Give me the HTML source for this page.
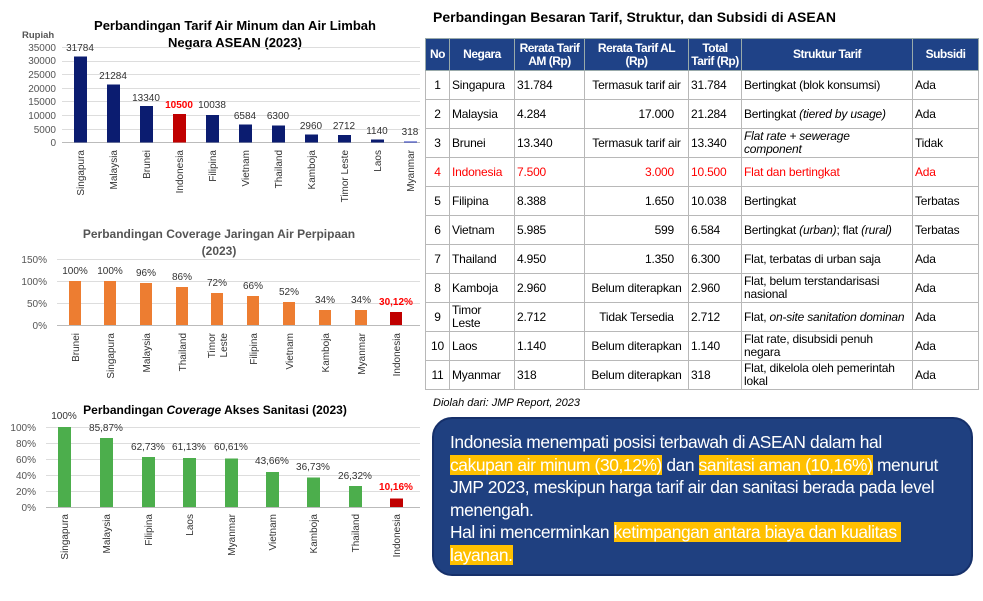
<!DOCTYPE html>
<html><head><meta charset="utf-8"><style>
body{margin:0;width:983px;height:601px;background:#fff;font-family:"Liberation Sans",sans-serif;position:relative;overflow:hidden}
svg text{font-family:"Liberation Sans",sans-serif}
#t{position:absolute;left:425px;top:38px;border-collapse:collapse;font-size:12px;color:#000;table-layout:fixed;letter-spacing:-0.2px}
#t td,#t th{border:1.5px solid #b8b8b8;padding:0 2px;line-height:13px;height:28px;overflow:hidden;white-space:nowrap}
#t td.w{white-space:normal}
#t th{background:#1f4287;color:#fff;font-weight:bold;height:31px;text-align:center;border-color:#9aa;white-space:normal;line-height:13px;padding:0 1px;letter-spacing:-0.5px}
#t tr.r td{color:#f00}
.c{text-align:center}.rt{text-align:right;padding-right:14px!important}
.box{position:absolute;left:432px;top:417px;width:541px;height:159px;background:#1f4080;border:2px solid #16306a;border-radius:20px;box-sizing:border-box;color:#fff;font-size:17.4px;line-height:22.5px;padding:12px 10px 0 16px;letter-spacing:-0.4px;white-space:nowrap}
.h{background:#ffc000}
</style></head><body>
<svg width="425" height="601" style="position:absolute;left:0;top:0">
<text x="235" y="30" font-size="13" font-weight="bold" text-anchor="middle">Perbandingan Tarif Air Minum dan Air Limbah</text>
<text x="235" y="47" font-size="13" font-weight="bold" text-anchor="middle">Negara ASEAN (2023)</text>
<text x="22" y="38" font-size="9.5" font-weight="bold" fill="#555">Rupiah</text>
<g font-size="10" fill="#555" text-anchor="end">
<text x="56" y="51">35000</text><text x="56" y="64">30000</text><text x="56" y="78">25000</text><text x="56" y="92">20000</text><text x="56" y="105">15000</text><text x="56" y="119">10000</text><text x="56" y="133">5000</text><text x="56" y="146">0</text></g>
<g stroke="#ddd"><line x1="62" x2="420" y1="47.5" y2="47.5"/><line x1="62" x2="420" y1="61.5" y2="61.5"/><line x1="62" x2="420" y1="74.5" y2="74.5"/><line x1="62" x2="420" y1="88.5" y2="88.5"/><line x1="62" x2="420" y1="101.5" y2="101.5"/><line x1="62" x2="420" y1="115.5" y2="115.5"/><line x1="62" x2="420" y1="129.5" y2="129.5"/></g>
<line x1="62" x2="420" y1="142.5" y2="142.5" stroke="#bbb"/>
<g fill="#0b1c70">
<rect x="74" y="56.5" width="13" height="86"/><rect x="107" y="84.5" width="13" height="58"/><rect x="140" y="106" width="13" height="36.5"/><rect x="173" y="114" width="13" height="28.5" fill="#c00000"/><rect x="206" y="115" width="13" height="27.5"/><rect x="239" y="124.5" width="13" height="18"/><rect x="272" y="125.5" width="13" height="17"/><rect x="305" y="134.5" width="13" height="8"/><rect x="338" y="135" width="13" height="7.5"/><rect x="371" y="139.5" width="13" height="3"/><rect x="404" y="141.5" width="13" height="1" fill="#2233bb"/></g>
<g font-size="10" fill="#333" text-anchor="middle">
<text x="80" y="51">31784</text><text x="113" y="79">21284</text><text x="146" y="101">13340</text><text x="179" y="108" fill="#f00" font-weight="bold">10500</text><text x="212" y="108">10038</text><text x="245" y="119">6584</text><text x="278" y="119">6300</text><text x="311" y="129">2960</text><text x="344" y="129">2712</text><text x="377" y="134">1140</text><text x="410" y="135">318</text></g>
<g font-size="10" fill="#333" text-anchor="end">
<text transform="translate(84,150) rotate(-90)">Singapura</text><text transform="translate(117,150) rotate(-90)">Malaysia</text><text transform="translate(150,150) rotate(-90)">Brunei</text><text transform="translate(183,150) rotate(-90)">Indonesia</text><text transform="translate(216,150) rotate(-90)">Filipina</text><text transform="translate(249,150) rotate(-90)">Vietnam</text><text transform="translate(282,150) rotate(-90)">Thailand</text><text transform="translate(315,150) rotate(-90)">Kamboja</text><text transform="translate(348,150) rotate(-90)">Timor Leste</text><text transform="translate(381,150) rotate(-90)">Laos</text><text transform="translate(414,150) rotate(-90)">Myanmar</text></g>
<text x="219" y="238" font-size="12" font-weight="bold" text-anchor="middle" fill="#555">Perbandingan Coverage Jaringan Air Perpipaan</text>
<text x="219" y="255" font-size="12" font-weight="bold" text-anchor="middle" fill="#555">(2023)</text>
<g font-size="10" fill="#555" text-anchor="end"><text x="47" y="263">150%</text><text x="47" y="285">100%</text><text x="47" y="307">50%</text><text x="47" y="329">0%</text></g>
<g stroke="#ddd"><line x1="57" x2="420" y1="259.5" y2="259.5"/><line x1="57" x2="420" y1="281.5" y2="281.5"/><line x1="57" x2="420" y1="303.5" y2="303.5"/></g>
<line x1="57" x2="420" y1="325.5" y2="325.5" stroke="#bbb"/>
<g fill="#ed7d31">
<rect x="69" y="281" width="12" height="44"/><rect x="104" y="281" width="12" height="44"/><rect x="140" y="283" width="12" height="42"/><rect x="176" y="287" width="12" height="38"/><rect x="211" y="293" width="12" height="32"/><rect x="247" y="296" width="12" height="29"/><rect x="283" y="302" width="12" height="23"/><rect x="319" y="310" width="12" height="15"/><rect x="355" y="310" width="12" height="15"/><rect x="390" y="312" width="12" height="13" fill="#c00000"/></g>
<g font-size="10" fill="#333" text-anchor="middle">
<text x="75" y="274">100%</text><text x="110" y="274">100%</text><text x="146" y="276">96%</text><text x="182" y="280">86%</text><text x="217" y="286">72%</text><text x="253" y="289">66%</text><text x="289" y="295">52%</text><text x="325" y="303">34%</text><text x="361" y="303">34%</text><text x="396" y="305" fill="#f00" font-weight="bold">30,12%</text></g>
<g font-size="10" fill="#333" text-anchor="end">
<text transform="translate(79,333) rotate(-90)">Brunei</text><text transform="translate(114,333) rotate(-90)">Singapura</text><text transform="translate(150,333) rotate(-90)">Malaysia</text><text transform="translate(186,333) rotate(-90)">Thailand</text><text transform="translate(215,333) rotate(-90)">Timor</text><text transform="translate(227,333) rotate(-90)">Leste</text><text transform="translate(257,333) rotate(-90)">Filipina</text><text transform="translate(293,333) rotate(-90)">Vietnam</text><text transform="translate(329,333) rotate(-90)">Kamboja</text><text transform="translate(365,333) rotate(-90)">Myanmar</text><text transform="translate(400,333) rotate(-90)">Indonesia</text></g>
<text x="215" y="414" font-size="12" font-weight="bold" text-anchor="middle">Perbandingan <tspan font-style="italic">Coverage</tspan> Akses Sanitasi (2023)</text>
<g font-size="10" fill="#555" text-anchor="end"><text x="36" y="431">100%</text><text x="36" y="447">80%</text><text x="36" y="463">60%</text><text x="36" y="479">40%</text><text x="36" y="495">20%</text><text x="36" y="511">0%</text></g>
<g stroke="#ddd"><line x1="46" x2="420" y1="427.5" y2="427.5"/><line x1="46" x2="420" y1="443.5" y2="443.5"/><line x1="46" x2="420" y1="459.5" y2="459.5"/><line x1="46" x2="420" y1="475.5" y2="475.5"/><line x1="46" x2="420" y1="491.5" y2="491.5"/></g>
<line x1="46" x2="420" y1="507.5" y2="507.5" stroke="#bbb"/>
<g fill="#4cae4c">
<rect x="58" y="427" width="13" height="80"/><rect x="100" y="438" width="13" height="69"/><rect x="142" y="457" width="13" height="50"/><rect x="183" y="458" width="13" height="49"/><rect x="225" y="458.5" width="13" height="48.5"/><rect x="266" y="472" width="13" height="35"/><rect x="307" y="477.5" width="13" height="29.5"/><rect x="349" y="486" width="13" height="21"/><rect x="390" y="498.5" width="13" height="8.5" fill="#c00000"/></g>
<g font-size="10" fill="#333" text-anchor="middle">
<text x="64" y="419">100%</text><text x="106" y="431">85,87%</text><text x="148" y="450">62,73%</text><text x="189" y="450">61,13%</text><text x="231" y="450">60,61%</text><text x="272" y="464">43,66%</text><text x="313" y="470">36,73%</text><text x="355" y="479">26,32%</text><text x="396" y="490" fill="#f00" font-weight="bold">10,16%</text></g>
<g font-size="10" fill="#333" text-anchor="end">
<text transform="translate(68,514) rotate(-90)">Singapura</text><text transform="translate(110,514) rotate(-90)">Malaysia</text><text transform="translate(152,514) rotate(-90)">Filipina</text><text transform="translate(193,514) rotate(-90)">Laos</text><text transform="translate(235,514) rotate(-90)">Myanmar</text><text transform="translate(276,514) rotate(-90)">Vietnam</text><text transform="translate(317,514) rotate(-90)">Kamboja</text><text transform="translate(359,514) rotate(-90)">Thailand</text><text transform="translate(400,514) rotate(-90)">Indonesia</text></g>
</svg>
<div style="position:absolute;left:433px;top:9px;font-size:14px;font-weight:bold">Perbandingan Besaran Tarif, Struktur, dan Subsidi di ASEAN</div>
<table id="t">
<colgroup><col style="width:24px"><col style="width:65px"><col style="width:70px"><col style="width:104px"><col style="width:53px"><col style="width:171px"><col style="width:66px"></colgroup>
<tr><th>No</th><th>Negara</th><th>Rerata Tarif AM (Rp)</th><th>Rerata Tarif AL (Rp)</th><th>Total Tarif&nbsp;(Rp)</th><th>Struktur Tarif</th><th>Subsidi</th></tr>
<tr><td class="c">1</td><td>Singapura</td><td>31.784</td><td class="c">Termasuk tarif air</td><td>31.784</td><td>Bertingkat (blok konsumsi)</td><td>Ada</td></tr>
<tr><td class="c">2</td><td>Malaysia</td><td>4.284</td><td class="rt">17.000</td><td>21.284</td><td>Bertingkat <i>(tiered by usage)</i></td><td>Ada</td></tr>
<tr><td class="c">3</td><td>Brunei</td><td>13.340</td><td class="c">Termasuk tarif air</td><td>13.340</td><td class="w"><i>Flat rate + sewerage component</i></td><td>Tidak</td></tr>
<tr class="r"><td class="c">4</td><td>Indonesia</td><td>7.500</td><td class="rt">3.000</td><td>10.500</td><td>Flat dan bertingkat</td><td>Ada</td></tr>
<tr><td class="c">5</td><td>Filipina</td><td>8.388</td><td class="rt">1.650</td><td>10.038</td><td>Bertingkat</td><td>Terbatas</td></tr>
<tr><td class="c">6</td><td>Vietnam</td><td>5.985</td><td class="rt">599</td><td>6.584</td><td>Bertingkat <i>(urban)</i>; flat <i>(rural)</i></td><td>Terbatas</td></tr>
<tr><td class="c">7</td><td>Thailand</td><td>4.950</td><td class="rt">1.350</td><td>6.300</td><td>Flat, terbatas di urban saja</td><td>Ada</td></tr>
<tr><td class="c">8</td><td>Kamboja</td><td>2.960</td><td class="c">Belum diterapkan</td><td>2.960</td><td class="w">Flat, belum terstandarisasi nasional</td><td>Ada</td></tr>
<tr><td class="c">9</td><td class="w">Timor Leste</td><td>2.712</td><td class="c">Tidak Tersedia</td><td>2.712</td><td class="w">Flat, <i>on-site sanitation dominan</i></td><td>Ada</td></tr>
<tr><td class="c">10</td><td>Laos</td><td>1.140</td><td class="c">Belum diterapkan</td><td>1.140</td><td class="w">Flat rate, disubsidi penuh negara</td><td>Ada</td></tr>
<tr><td class="c">11</td><td>Myanmar</td><td>318</td><td class="c">Belum diterapkan</td><td>318</td><td class="w">Flat, dikelola oleh pemerintah lokal</td><td>Ada</td></tr>
</table>
<div style="position:absolute;left:433px;top:397px;font-size:11px;font-style:italic">Diolah dari: JMP Report, 2023</div>
<div class="box">Indonesia menempati posisi terbawah di ASEAN dalam hal<br><span class="h">cakupan air minum (30,12%)</span> dan <span class="h">sanitasi aman (10,16%)</span> menurut<br>JMP 2023, meskipun harga tarif air dan sanitasi berada pada level<br>menengah.<br>Hal ini mencerminkan <span class="h">ketimpangan antara biaya dan kualitas&nbsp;</span><br><span class="h">layanan.</span></div>
</body></html>
